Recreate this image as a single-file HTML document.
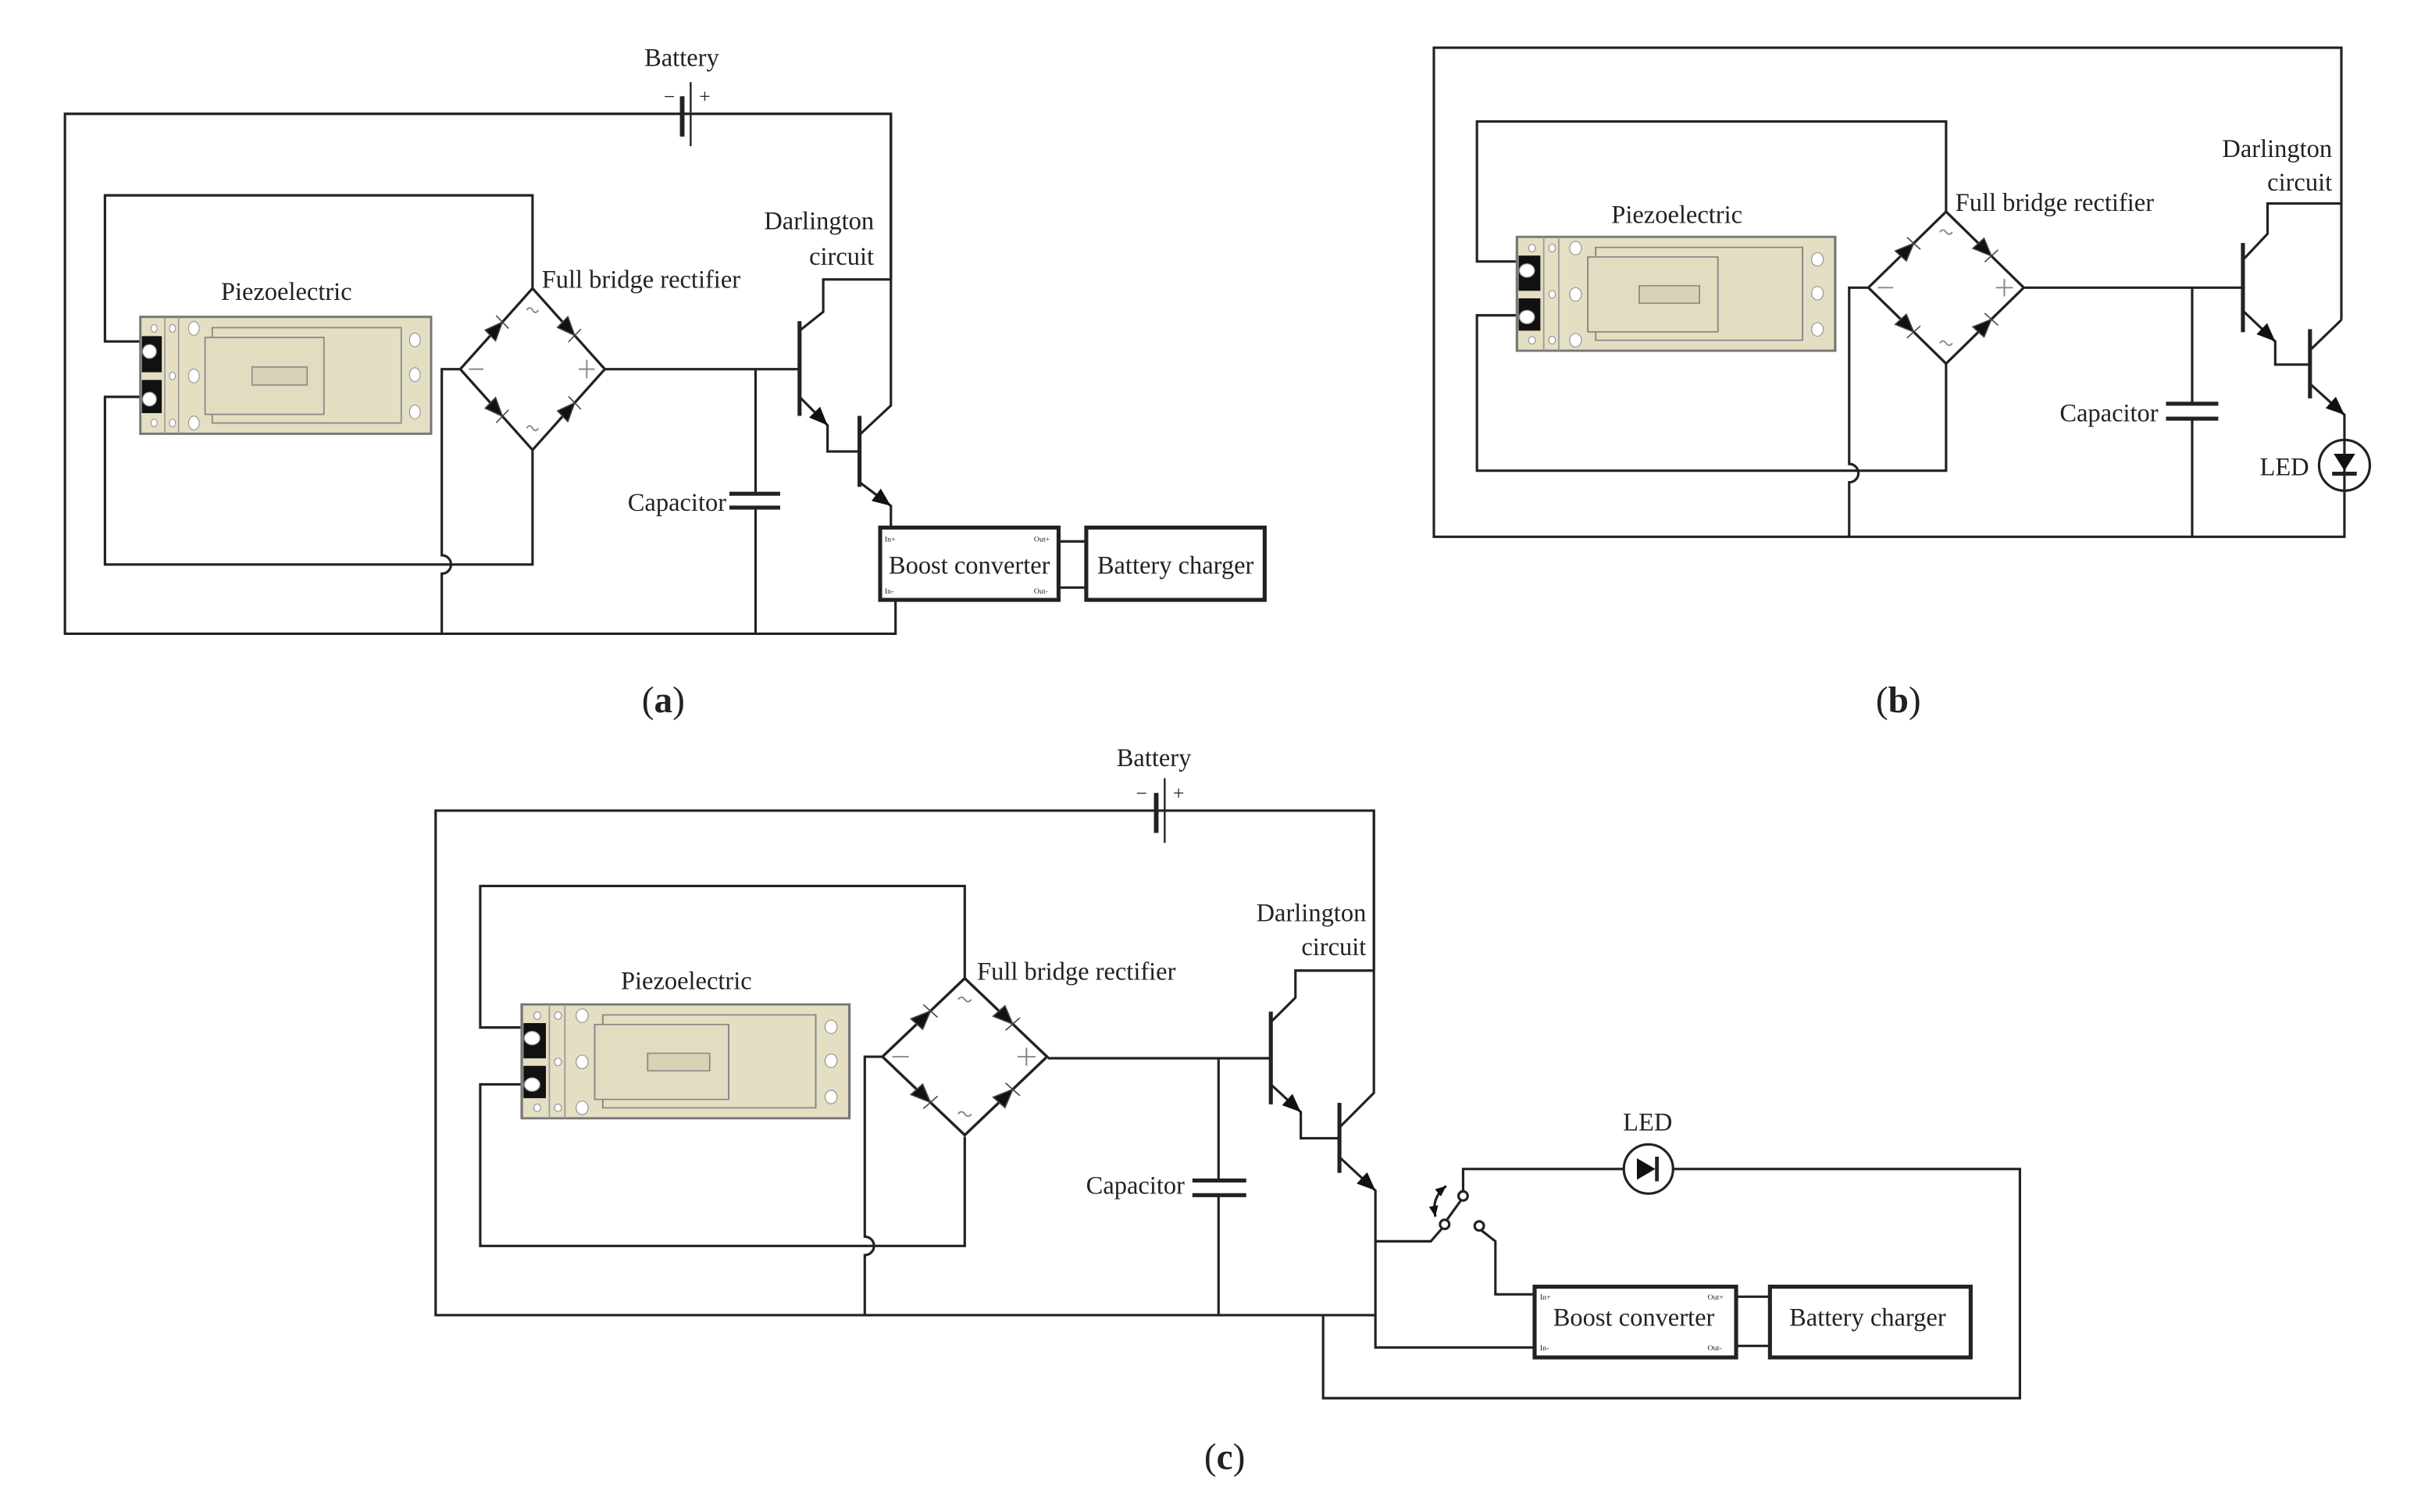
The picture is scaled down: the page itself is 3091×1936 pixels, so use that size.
<!DOCTYPE html>
<html><head><meta charset="utf-8"><style>
html,body{margin:0;padding:0;background:#fff}
svg{display:block}
text{font-family:"Liberation Serif",serif;fill:#222}
</style></head><body>
<svg width="3091" height="1936" viewBox="0 0 1569 983" xmlns="http://www.w3.org/2000/svg">
<g fill="none" stroke="#222" stroke-width="1.6" stroke-linejoin="miter">
<!-- ===== Panel A ===== -->
<path d="M579,181.7 V74 H42 V412 H582 V390"/>
<path d="M579,74 V263.6 L558.6,282.7"/>
<path d="M579,181.7 H535 V202.7 L519.6,215"/>
<path d="M519.6,208.8 V270.4" stroke-width="2.6"/>
<path d="M393,240 H519.6"/>
<path d="M519.6,258 L537.8,276.5 V293.5 H558.6"/>
<path d="M558.6,270.4 V316.5" stroke-width="2.6"/>
<path d="M558.6,313.5 L579,328.9 V343"/>
<path d="M491,240 V321 M491,330 V412"/>
<path d="M474,321 H507 M474,330 H507" stroke-width="2.6"/>
<path d="M346,188 V127 H68 V222 H92"/>
<path d="M346,293 V367 H68 V258 H92"/>
<path d="M299,240 H287 V361 a6,6 0 0 1 0,12 V412"/>
<rect x="572" y="343" width="116" height="47" stroke-width="2.6"/>
<rect x="706" y="343" width="116" height="47" stroke-width="2.6"/>
<path d="M688,352 H706 M688,382 H706"/>
<path d="M443.3,62.6 V88.8" stroke-width="3"/>
<path d="M448.8,53.4 V95" stroke-width="1.2"/>

<!-- ===== Panel B ===== -->
<path d="M1522,208 V31 H932 V349 H1524 V318.5"/>
<path d="M1522,132.3 H1474 V152 L1458,169"/>
<path d="M1458,158 V216" stroke-width="2.6"/>
<path d="M1315,187 H1458"/>
<path d="M1458,202 L1479,222 V237 H1501.6"/>
<path d="M1501.6,214 V259" stroke-width="2.6"/>
<path d="M1501.6,227.7 L1522,208"/>
<path d="M1501.6,249.5 L1524,269.7 V286"/>
<circle cx="1524" cy="302.5" r="16.5"/>
<path d="M1524,286 V318.5"/>
<path d="M1516,308 H1532" stroke-width="2.6"/>
<path d="M1425,187 V262.5 M1425,272.2 V349"/>
<path d="M1408,262.5 H1442 M1408,272.2 H1442" stroke-width="2.6"/>
<path d="M1265,138 V79 H960 V170 H987"/>
<path d="M1265,236.5 V306 H960 V205 H987"/>
<path d="M1214.5,187 H1202 V301.6 a6,6 0 0 1 0,12 V349"/>

<!-- ===== Panel C ===== -->
<path d="M893,631 V527 H283 V855 H894"/>
<path d="M893,527 V710.5 L870.6,733"/>
<path d="M893,631 H842 V648.6 L826,664.5"/>
<path d="M826,657.7 V718" stroke-width="2.6"/>
<path d="M681,688 H826"/>
<path d="M826,705 L845.5,723 V740 H870.6"/>
<path d="M870.6,717 V762.5" stroke-width="2.6"/>
<path d="M870.6,752.3 L894,774 V876 H997.5"/>
<path d="M860,855 V909 H1313 V760 H1087.5"/>
<path d="M1055.5,760 H951 V774.5"/>
<circle cx="1071.5" cy="760" r="16"/>
<path d="M1077,752 V768" stroke-width="2.4"/>
<path d="M894,807 H930 L937,799"/>
<circle cx="939" cy="796" r="3"/>
<path d="M940.5,793 L949.5,780.5"/>
<circle cx="951" cy="777.5" r="3"/>
<circle cx="961.5" cy="797" r="3"/>
<path d="M963,800 L972,807 V841.5 H997.5"/>
<path d="M940,771 Q930,779 933,791"/>
<path d="M792,688 V767.5 M792,777 V855"/>
<path d="M775,767.5 H810 M775,777 H810" stroke-width="2.6"/>
<path d="M627,636 V576 H312 V668 H340"/>
<path d="M627,739 V810 H312 V705 H340"/>
<path d="M574,687 H562 V804 a6,6 0 0 1 0,12 V855"/>
<rect x="997.5" y="836.5" width="131" height="46" stroke-width="2.6"/>
<rect x="1150.5" y="836.5" width="130.5" height="46" stroke-width="2.6"/>
<path d="M1128.5,843 H1150.5 M1128.5,875 H1150.5"/>
<path d="M751.5,515.5 V541.5" stroke-width="3"/>
<path d="M757,506 V548" stroke-width="1.2"/>
</g>

<!-- arrowheads -->
<g fill="#111">
<g transform="translate(537.8,276.5) rotate(45.5)"><polygon points="0,0 -12,-5 -12,5"/></g>
<g transform="translate(579,328.9) rotate(37)"><polygon points="0,0 -12,-5 -12,5"/></g>
<g transform="translate(1479,222) rotate(43.6)"><polygon points="0,0 -12,-5 -12,5"/></g>
<g transform="translate(1524,269.7) rotate(42)"><polygon points="0,0 -12,-5 -12,5"/></g>
<g transform="translate(845.5,723) rotate(42.7)"><polygon points="0,0 -12,-5 -12,5"/></g>
<g transform="translate(894,774) rotate(43)"><polygon points="0,0 -12,-5 -12,5"/></g>
<polygon points="1517,295 1531,295 1524,306"/>
<polygon points="1064,753 1064,767 1076,760"/>
<g transform="translate(940,771) rotate(-40)"><polygon points="0,0 -7,-3 -7,3"/></g>
<g transform="translate(933,791) rotate(80)"><polygon points="0,0 -7,-3 -7,3"/></g>
</g>

<!-- Bridges -->
<g id="brA" transform="translate(346,240) scale(0.94,1.01)">
<path d="M0,-52 L50,0 L0,52 L-50,0 Z" fill="none" stroke="#222" stroke-width="1.7"/>
<g fill="#111" stroke="#444" stroke-width="0.8">
<g transform="translate(-25,-26) rotate(-46.1)"><polygon points="-6,-5 -6,5 6,0"/><line x1="6" y1="-6" x2="6" y2="6"/></g>
<g transform="translate(25,-26) rotate(46.1)"><polygon points="-6,-5 -6,5 6,0"/><line x1="6" y1="-6" x2="6" y2="6"/></g>
<g transform="translate(-25,26) rotate(46.1)"><polygon points="-6,-5 -6,5 6,0"/><line x1="6" y1="-6" x2="6" y2="6"/></g>
<g transform="translate(25,26) rotate(-46.1)"><polygon points="-6,-5 -6,5 6,0"/><line x1="6" y1="-6" x2="6" y2="6"/></g>
</g>
<g stroke="#888" stroke-width="1" fill="none"><path d="M-44,0 H-34 M32,0 H43 M37.5,-6 V6"/><path d="M-4,-38 q2,-3 4,0 t4,0 M-4,38 q2,-3 4,0 t4,0"/></g>
</g>
<g transform="translate(1265,187) scale(1.01,0.95)">
<path d="M0,-52 L50,0 L0,52 L-50,0 Z" fill="none" stroke="#222" stroke-width="1.7"/>
<g fill="#111" stroke="#444" stroke-width="0.8">
<g transform="translate(-25,-26) rotate(-46.1)"><polygon points="-6,-5 -6,5 6,0"/><line x1="6" y1="-6" x2="6" y2="6"/></g>
<g transform="translate(25,-26) rotate(46.1)"><polygon points="-6,-5 -6,5 6,0"/><line x1="6" y1="-6" x2="6" y2="6"/></g>
<g transform="translate(-25,26) rotate(46.1)"><polygon points="-6,-5 -6,5 6,0"/><line x1="6" y1="-6" x2="6" y2="6"/></g>
<g transform="translate(25,26) rotate(-46.1)"><polygon points="-6,-5 -6,5 6,0"/><line x1="6" y1="-6" x2="6" y2="6"/></g>
</g>
<g stroke="#888" stroke-width="1" fill="none"><path d="M-44,0 H-34 M32,0 H43 M37.5,-6 V6"/><path d="M-4,-38 q2,-3 4,0 t4,0 M-4,38 q2,-3 4,0 t4,0"/></g>
</g>
<g transform="translate(627,687) scale(1.07,0.98)">
<path d="M0,-52 L50,0 L0,52 L-50,0 Z" fill="none" stroke="#222" stroke-width="1.7"/>
<g fill="#111" stroke="#444" stroke-width="0.8">
<g transform="translate(-25,-26) rotate(-46.1)"><polygon points="-6,-5 -6,5 6,0"/><line x1="6" y1="-6" x2="6" y2="6"/></g>
<g transform="translate(25,-26) rotate(46.1)"><polygon points="-6,-5 -6,5 6,0"/><line x1="6" y1="-6" x2="6" y2="6"/></g>
<g transform="translate(-25,26) rotate(46.1)"><polygon points="-6,-5 -6,5 6,0"/><line x1="6" y1="-6" x2="6" y2="6"/></g>
<g transform="translate(25,26) rotate(-46.1)"><polygon points="-6,-5 -6,5 6,0"/><line x1="6" y1="-6" x2="6" y2="6"/></g>
</g>
<g stroke="#888" stroke-width="1" fill="none"><path d="M-44,0 H-34 M32,0 H43 M37.5,-6 V6"/><path d="M-4,-38 q2,-3 4,0 t4,0 M-4,38 q2,-3 4,0 t4,0"/></g>
</g>

<!-- Piezo boards -->
<g transform="translate(91,206) scale(0.995,1)">
<rect x="0" y="0" width="190" height="76" fill="#e4dec3" stroke="#777" stroke-width="1.5"/>
<path d="M16,0 V76 M25,0 V76" stroke="#999" stroke-width="0.8" fill="none"/>
<rect x="47" y="7" width="123.5" height="62" fill="none" stroke="#888" stroke-width="0.9"/>
<rect x="42.3" y="13.4" width="77.7" height="50" fill="#e2dcc0" stroke="#888" stroke-width="0.9"/>
<rect x="73" y="32.6" width="36" height="11.7" fill="#d8d2b6" stroke="#888" stroke-width="0.8"/>
<path d="M1,12.5 H14 V36 H1 Z M1,41 H14 V62.6 H1 Z" fill="#111"/>
<g fill="#fff" stroke="#999" stroke-width="0.6">
<circle cx="6" cy="22.5" r="4.5"/><circle cx="6" cy="53.5" r="4.5"/>
<ellipse cx="9" cy="7.5" rx="2" ry="2.5"/><ellipse cx="21" cy="7.5" rx="2" ry="2.5"/><ellipse cx="21" cy="38.4" rx="2" ry="2.5"/><ellipse cx="9" cy="69" rx="2" ry="2.5"/><ellipse cx="21" cy="69" rx="2" ry="2.5"/>
<ellipse cx="35" cy="7.5" rx="3.5" ry="4.5"/><ellipse cx="35" cy="38.4" rx="3.5" ry="4.5"/><ellipse cx="35" cy="69" rx="3.5" ry="4.5"/>
<ellipse cx="179.4" cy="15" rx="3.5" ry="4.5"/><ellipse cx="179.4" cy="37.6" rx="3.5" ry="4.5"/><ellipse cx="179.4" cy="61.8" rx="3.5" ry="4.5"/>
</g>
</g>
<g transform="translate(986,154) scale(1.089,0.974)">
<rect x="0" y="0" width="190" height="76" fill="#e4dec3" stroke="#777" stroke-width="1.5"/>
<path d="M16,0 V76 M25,0 V76" stroke="#999" stroke-width="0.8" fill="none"/>
<rect x="47" y="7" width="123.5" height="62" fill="none" stroke="#888" stroke-width="0.9"/>
<rect x="42.3" y="13.4" width="77.7" height="50" fill="#e2dcc0" stroke="#888" stroke-width="0.9"/>
<rect x="73" y="32.6" width="36" height="11.7" fill="#d8d2b6" stroke="#888" stroke-width="0.8"/>
<path d="M1,12.5 H14 V36 H1 Z M1,41 H14 V62.6 H1 Z" fill="#111"/>
<g fill="#fff" stroke="#999" stroke-width="0.6">
<circle cx="6" cy="22.5" r="4.5"/><circle cx="6" cy="53.5" r="4.5"/>
<ellipse cx="9" cy="7.5" rx="2" ry="2.5"/><ellipse cx="21" cy="7.5" rx="2" ry="2.5"/><ellipse cx="21" cy="38.4" rx="2" ry="2.5"/><ellipse cx="9" cy="69" rx="2" ry="2.5"/><ellipse cx="21" cy="69" rx="2" ry="2.5"/>
<ellipse cx="35" cy="7.5" rx="3.5" ry="4.5"/><ellipse cx="35" cy="38.4" rx="3.5" ry="4.5"/><ellipse cx="35" cy="69" rx="3.5" ry="4.5"/>
<ellipse cx="179.4" cy="15" rx="3.5" ry="4.5"/><ellipse cx="179.4" cy="37.6" rx="3.5" ry="4.5"/><ellipse cx="179.4" cy="61.8" rx="3.5" ry="4.5"/>
</g>
</g>
<g transform="translate(339,653) scale(1.121,0.974)">
<rect x="0" y="0" width="190" height="76" fill="#e4dec3" stroke="#777" stroke-width="1.5"/>
<path d="M16,0 V76 M25,0 V76" stroke="#999" stroke-width="0.8" fill="none"/>
<rect x="47" y="7" width="123.5" height="62" fill="none" stroke="#888" stroke-width="0.9"/>
<rect x="42.3" y="13.4" width="77.7" height="50" fill="#e2dcc0" stroke="#888" stroke-width="0.9"/>
<rect x="73" y="32.6" width="36" height="11.7" fill="#d8d2b6" stroke="#888" stroke-width="0.8"/>
<path d="M1,12.5 H14 V36 H1 Z M1,41 H14 V62.6 H1 Z" fill="#111"/>
<g fill="#fff" stroke="#999" stroke-width="0.6">
<circle cx="6" cy="22.5" r="4.5"/><circle cx="6" cy="53.5" r="4.5"/>
<ellipse cx="9" cy="7.5" rx="2" ry="2.5"/><ellipse cx="21" cy="7.5" rx="2" ry="2.5"/><ellipse cx="21" cy="38.4" rx="2" ry="2.5"/><ellipse cx="9" cy="69" rx="2" ry="2.5"/><ellipse cx="21" cy="69" rx="2" ry="2.5"/>
<ellipse cx="35" cy="7.5" rx="3.5" ry="4.5"/><ellipse cx="35" cy="38.4" rx="3.5" ry="4.5"/><ellipse cx="35" cy="69" rx="3.5" ry="4.5"/>
<ellipse cx="179.4" cy="15" rx="3.5" ry="4.5"/><ellipse cx="179.4" cy="37.6" rx="3.5" ry="4.5"/><ellipse cx="179.4" cy="61.8" rx="3.5" ry="4.5"/>
</g>
</g>

<!-- Text -->
<g font-size="16.5">
<text x="443" y="43" text-anchor="middle">Battery</text>
<text x="186" y="195" text-anchor="middle">Piezoelectric</text>
<text x="352" y="187">Full bridge rectifier</text>
<text x="568" y="149" text-anchor="end">Darlington</text>
<text x="568" y="172" text-anchor="end">circuit</text>
<text x="472" y="332" text-anchor="end">Capacitor</text>
<text x="630" y="373" text-anchor="middle">Boost converter</text>
<text x="764" y="373" text-anchor="middle">Battery charger</text>

<text x="1090" y="145" text-anchor="middle">Piezoelectric</text>
<text x="1271" y="137">Full bridge rectifier</text>
<text x="1516" y="102" text-anchor="end">Darlington</text>
<text x="1516" y="124" text-anchor="end">circuit</text>
<text x="1403" y="274" text-anchor="end">Capacitor</text>
<text x="1501" y="309" text-anchor="end">LED</text>

<text x="750" y="498" text-anchor="middle">Battery</text>
<text x="446" y="643" text-anchor="middle">Piezoelectric</text>
<text x="635" y="637">Full bridge rectifier</text>
<text x="888" y="599" text-anchor="end">Darlington</text>
<text x="888" y="621" text-anchor="end">circuit</text>
<text x="770" y="776" text-anchor="end">Capacitor</text>
<text x="1071" y="735" text-anchor="middle">LED</text>
<text x="1062" y="862" text-anchor="middle">Boost converter</text>
<text x="1214" y="862" text-anchor="middle">Battery charger</text>
</g>
<g font-size="13" font-family="Liberation Sans, sans-serif">
<text x="435" y="67" text-anchor="middle">−</text><text x="458" y="67" text-anchor="middle">+</text>
<text x="742" y="520" text-anchor="middle">−</text><text x="766" y="520" text-anchor="middle">+</text>
</g>
<g font-size="5" fill="#444">
<text x="575" y="352">In+</text><text x="672" y="352">Out+</text><text x="575" y="386">In-</text><text x="672" y="386">Out-</text>
<text x="1001" y="845">In+</text><text x="1110" y="845">Out+</text><text x="1001" y="878">In-</text><text x="1110" y="878">Out-</text>
</g>
<g font-size="24">
<text x="431" y="463" text-anchor="middle">(<tspan font-weight="bold">a</tspan>)</text>
<text x="1234" y="463" text-anchor="middle">(<tspan font-weight="bold">b</tspan>)</text>
<text x="796" y="955" text-anchor="middle">(<tspan font-weight="bold">c</tspan>)</text>
</g>
</svg>
</body></html>
